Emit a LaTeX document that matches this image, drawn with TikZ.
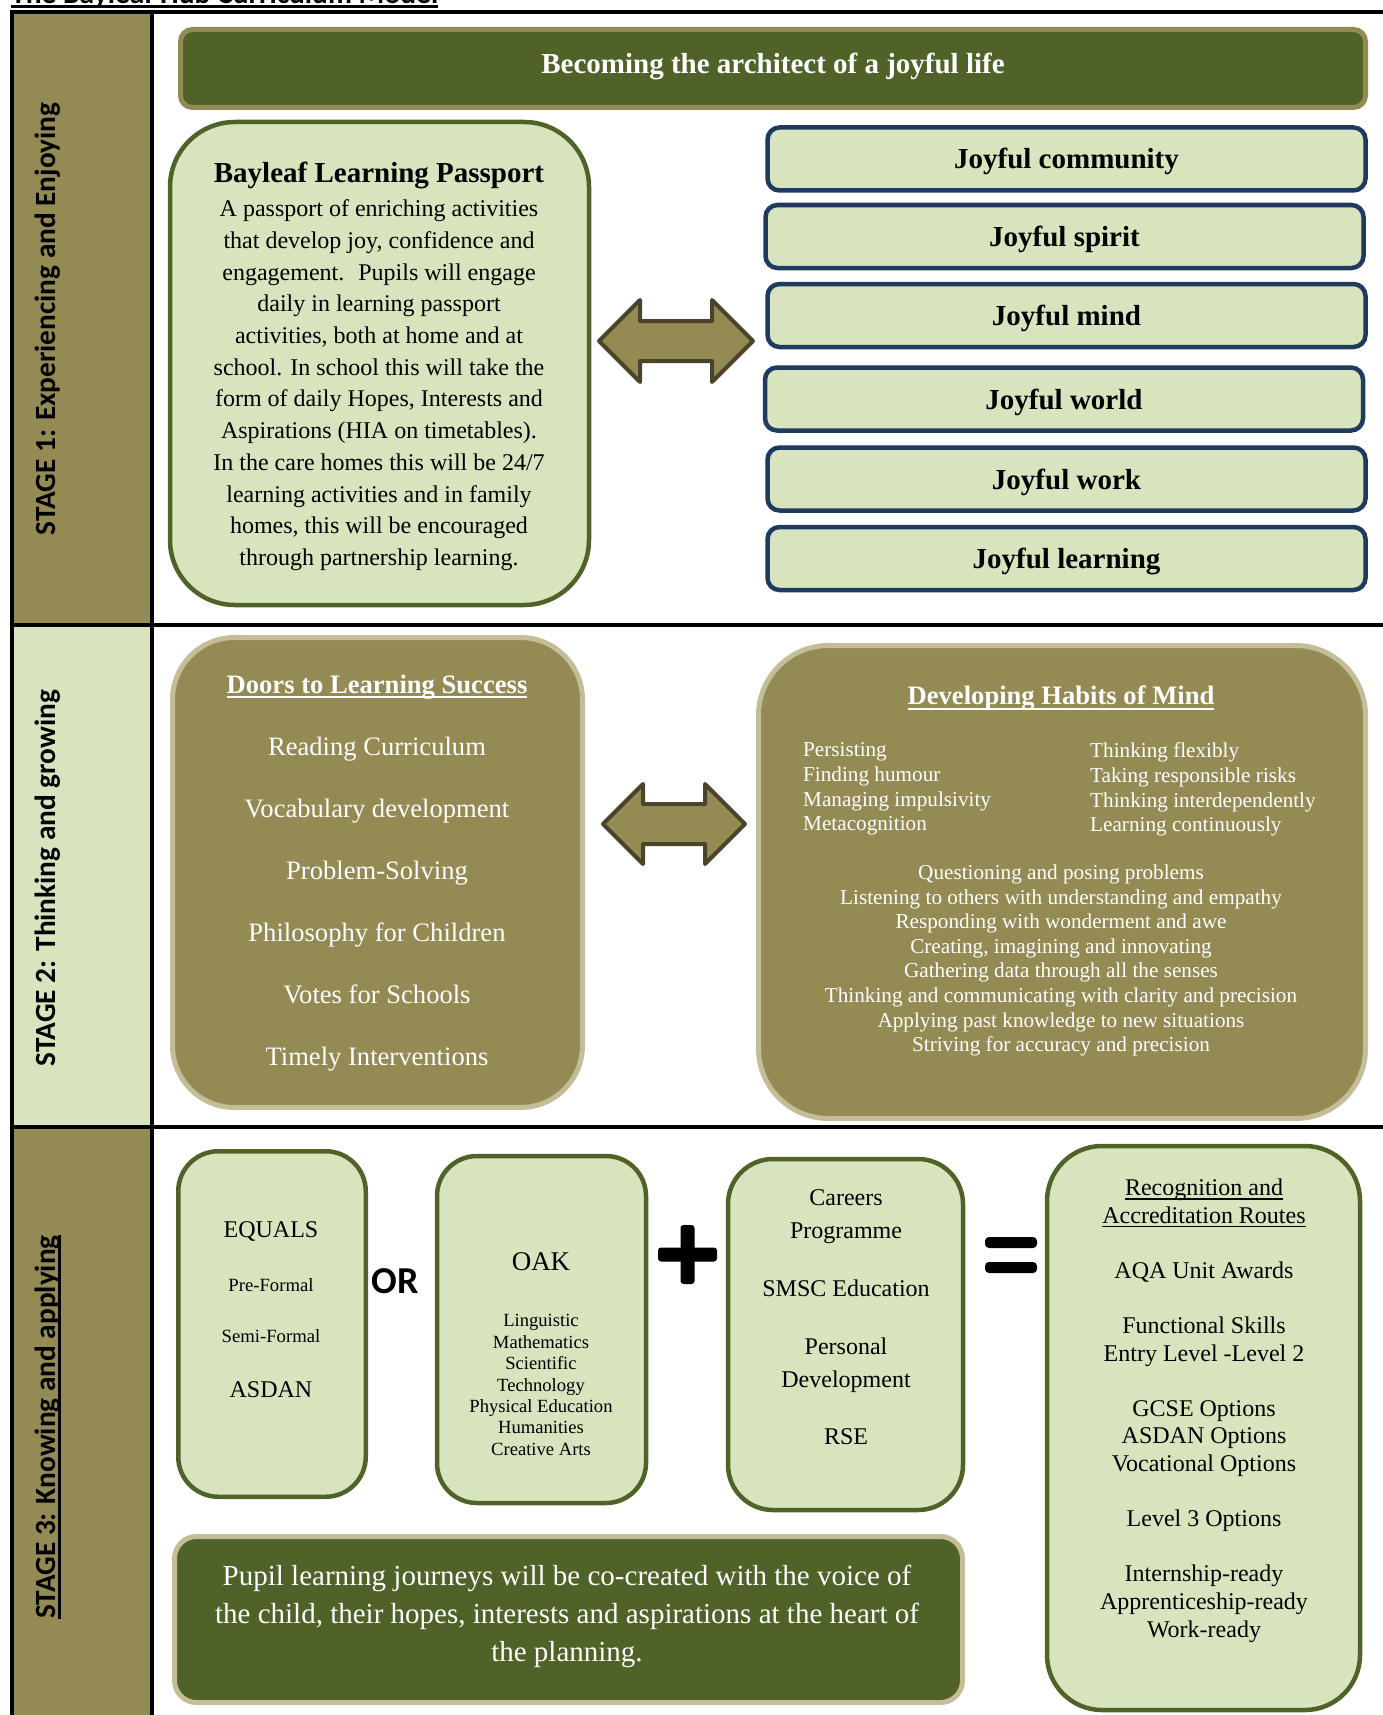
\documentclass[tikz,border=0pt]{standalone}
\usepackage{fontspec}
\setmainfont{Liberation Serif}
\newfontfamily\calibri{Carlito}
\usetikzlibrary{positioning}

\definecolor{leafolive}{HTML}{948A54}
\definecolor{leafdark}{HTML}{4F6228}
\definecolor{leaflight}{HTML}{D7E4BD}
\definecolor{leaftan}{HTML}{C4BD97}
\definecolor{leafnavy}{HTML}{1F3A5F}
\definecolor{leafbrown}{HTML}{4A452A}

\newcommand{\fsz}[2]{\fontsize{#1}{#2}\selectfont}
% underline: depth, thickness, text
\newlength{\ulwd}
\newcommand{\uln}[3]{\settowidth{\ulwd}{#3}\rlap{\rule[-\dimexpr#1+#2\relax]{\ulwd}{#2}}#3}

\begin{document}
\begin{tikzpicture}[x=1pt, y=-1pt, inner sep=0pt,
    greenbox/.style={fill=leaflight, draw=leafdark, line width=4.5pt},
    olivebox/.style={fill=leafolive, draw=leaftan, line width=5pt},
    joybox/.style={fill=leaflight, draw=leafnavy, line width=4.5pt, rounded corners=12pt,
      minimum width=598pt, minimum height=63pt, text height=23pt, text depth=3pt,
      font=\fsz{29}{34}\bfseries},
    twoway/.style={fill=leafolive, draw=leafbrown, line width=4pt, line join=round},
    stagelabel/.style={rotate=90, anchor=base, font=\calibri\bfseries\fsz{29.3}{34}},
    frameline/.style={black, line width=4pt}]
  \clip (0,0) rectangle (1383,1715);

  % stage column and frame
  \fill[leafolive] (12,12) rectangle (152,625);
  \fill[leaflight] (12,625) rectangle (152,1127);
  \fill[leafolive] (12,1127) rectangle (152,1715);
  \draw[frameline] (10,12) -- (1383,12);
  \draw[frameline] (12,12) -- (12,1715);
  \draw[frameline] (152,12) -- (152,1715);
  \draw[frameline] (10,625) -- (1383,625);
  \draw[frameline] (10,1127) -- (1383,1127);

  \node[anchor=base west, font=\calibri\bfseries\fsz{29.5}{34}] (doctitle) at (11,3.3)
    {\uln{1.5pt}{3pt}{The Bayleaf Hub Curriculum Model}};

  \node[stagelabel] (stageone) at (55,319) {STAGE 1: Experiencing and Enjoying};
  \node[stagelabel] (stagetwo) at (55,878) {STAGE 2: Thinking and growing};
  \node[stagelabel] (stagethree) at (55,1427) {\uln{3pt}{2.5pt}{STAGE 3: Knowing and applying}};

  % stage 1
  \node[fill=leafdark, draw=leafolive, line width=5pt, rounded corners=12pt,
    minimum width=1185pt, minimum height=78pt, text height=18pt, text depth=7pt,
    text=white, font=\fsz{29}{34}\bfseries]
    (motto) at (773,68.5) {Becoming the architect of a joyful life};

  \draw[greenbox, rounded corners=65pt] (170,122) rectangle (589,605);
  \node[anchor=base, font=\fsz{29}{34}\bfseries] (passtitle) at (379,183) {Bayleaf Learning Passport};
  \node[anchor=north, align=center, font=\fsz{24}{31.7}] (passtext) at (379,199.6)
    {A passport of enriching activities\\
     that develop joy, confidence and\\
     engagement.~ Pupils will engage\\
     daily in learning passport\\
     activities, both at home and at\\
     school. In school this will take the\\
     form of daily Hopes, Interests and\\
     Aspirations (HIA on timetables).\\
     In the care homes this will be 24/7\\
     learning activities and in family\\
     homes, this will be encouraged\\
     through partnership learning.};

  \draw[twoway] (599,341) -- (640,300) -- (640,321) -- (712,321) -- (712,300) -- (753,341)
    -- (712,382) -- (712,361) -- (640,361) -- (640,382) -- cycle;

  \node[joybox] (jcommunity) at (1066.5,159) {Joyful community};
  \node[joybox] (jspirit) at (1064.5,236.5) {Joyful spirit};
  \node[joybox] (jmind) at (1066.5,315.5) {Joyful mind};
  \node[joybox] (jworld) at (1064,399) {Joyful world};
  \node[joybox] (jwork) at (1066.5,479) {Joyful work};
  \node[joybox] (jlearning) at (1066.5,558.5) {Joyful learning};

  % stage 2
  \draw[olivebox, rounded corners=62pt] (172.5,637.5) rectangle (582.5,1107.5);
  \node[anchor=base, text=white, font=\fsz{26.6}{32}\bfseries] (doorstitle) at (377,693)
    {\uln{3pt}{2pt}{Doors to Learning Success}};
  \node[anchor=north, align=center, text=white, font=\fsz{26.6}{62}] (doorslist) at (377,736.8)
    {Reading Curriculum\\Vocabulary development\\Problem-Solving\\
     Philosophy for Children\\Votes for Schools\\Timely Interventions};

  \draw[twoway] (603,824) -- (643,784) -- (643,804) -- (705,804) -- (705,784) -- (745,824)
    -- (705,864) -- (705,844) -- (643,844) -- (643,864) -- cycle;

  \draw[olivebox, rounded corners=70pt] (758.5,645.5) rectangle (1365.5,1118.5);
  \node[anchor=base, text=white, font=\fsz{26.6}{32}\bfseries] (habitstitle) at (1061,704)
    {\uln{3.5pt}{2.2pt}{Developing Habits of Mind}};
  \node[anchor=north west, align=left, text=white, font=\fsz{21.2}{24.7}] (habitsleft) at (803,742.5)
    {Persisting\\Finding humour\\Managing impulsivity\\Metacognition};
  \node[anchor=north west, align=left, text=white, font=\fsz{21.2}{24.7}] (habitsright) at (1090,742.5)
    {Thinking flexibly\\Taking responsible risks\\Thinking interdependently\\Learning continuously};
  \node[anchor=north, align=center, text=white, font=\fsz{21.2}{24.6}] (habitsmore) at (1061,864.5)
    {Questioning and posing problems\\
     Listening to others with understanding and empathy\\
     Responding with wonderment and awe\\
     Creating, imagining and innovating\\
     Gathering data through all the senses\\
     Thinking and communicating with clarity and precision\\
     Applying past knowledge to new situations\\
     Striving for accuracy and precision};

  % stage 3
  \draw[greenbox, rounded corners=40pt] (178.25,1151.25) rectangle (365.75,1496.75);
  \node[anchor=base, font=\fsz{24}{28}] (equalstitle) at (271,1237) {EQUALS};
  \node[anchor=base, font=\fsz{18.7}{22}] (preformal) at (271,1291) {Pre-Formal};
  \node[anchor=base, font=\fsz{18.7}{22}] (semiformal) at (271,1342) {Semi-Formal};
  \node[anchor=base, font=\fsz{24}{28}] (asdan) at (271,1397) {ASDAN};

  \node[anchor=base, font=\calibri\bfseries\fsz{38}{44}] (ortext) at (395,1293) {OR};

  \draw[greenbox, rounded corners=40pt] (437,1156) rectangle (646,1503);
  \node[anchor=base, font=\fsz{27}{32}] (oaktitle) at (541,1270) {OAK};
  \node[anchor=north, align=center, font=\fsz{18.6}{21.4}] (oaklist) at (541,1314.3)
    {Linguistic\\Mathematics\\Scientific\\Technology\\Physical Education\\Humanities\\Creative Arts};

  % plus and equals
  \fill[black, rounded corners=3pt] (680.5,1225) rectangle (694.5,1284);
  \fill[black, rounded corners=3pt] (658,1247.5) rectangle (717,1261.5);
  \fill[black, rounded corners=4pt] (985,1237) rectangle (1037,1248);
  \fill[black, rounded corners=4pt] (985,1262) rectangle (1037,1273);

  \draw[greenbox, rounded corners=45pt] (728,1159) rectangle (963,1510);
  \node[anchor=north, align=center, font=\fsz{24}{32.8}] (careers) at (846,1189.8)
    {Careers\\Programme\\[25pt]SMSC Education\\[25pt]Personal\\Development\\[25pt]RSE};

  \draw[greenbox, rounded corners=55pt] (1047,1146) rectangle (1360,1710);
  \node[anchor=north, align=center, font=\fsz{24}{27.6}] (routes) at (1204,1178.6)
    {\uln{2.5pt}{1.6pt}{Recognition and}\\\uln{2.5pt}{1.6pt}{Accreditation Routes}\\[27.6pt]
     AQA Unit Awards\\[27.6pt]
     Functional Skills\\Entry Level -Level 2\\[27.6pt]
     GCSE Options\\ASDAN Options\\Vocational Options\\[27.6pt]
     Level 3 Options\\[27.6pt]
     Internship-ready\\Apprenticeship-ready\\Work-ready};

  \draw[fill=leafdark, draw=leaftan, line width=5pt, rounded corners=22pt] (174.5,1536.5) rectangle (962.5,1702.5);
  \node[anchor=north, align=center, text=white, font=\fsz{29}{37.8}] (pupilvoice) at (567,1565.2)
    {Pupil learning journeys will be co-created with the voice of\\
     the child, their hopes, interests and aspirations at the heart of\\
     the planning.};
\end{tikzpicture}
\end{document}
